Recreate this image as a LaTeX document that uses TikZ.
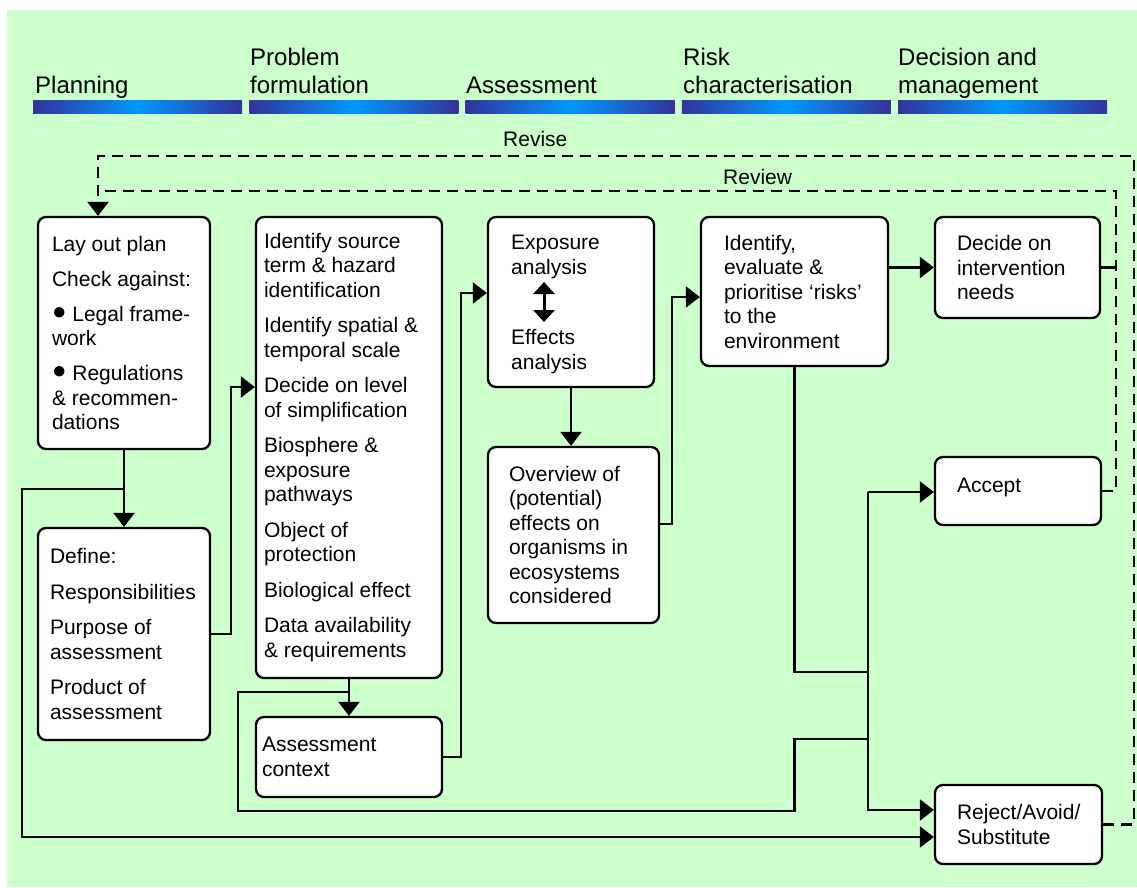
\documentclass[tikz,border=0pt]{standalone}
\usepackage{fontspec}
\setmainfont{Liberation Sans}
\usetikzlibrary{arrows.meta,calc}
\definecolor{bggreen}{HTML}{CCFFCC}
\definecolor{bardark}{HTML}{333399}
\definecolor{barlight}{HTML}{0099FF}
\newcommand{\bigdot}{\raisebox{2pt}{\fontsize{24}{24.5}\selectfont●}}
\begin{document}
\begin{tikzpicture}[x=1pt,y=-1pt,
  box/.style={draw, line width=2.3pt, rounded corners=8pt, fill=white, inner sep=0pt},
  txt/.style={font=\fontsize{21}{24.5}\selectfont, align=left, inner sep=0pt, anchor=west},
  phase/.style={font=\fontsize{24}{28}\selectfont, inner sep=0pt, anchor=base west},
  loopl/.style={font=\fontsize{21}{24.5}\selectfont, inner sep=0pt, anchor=base west},
  conn/.style={line width=2.2pt},
  arr/.style={conn, -{Triangle[length=14pt,width=21pt]}},
  dline/.style={conn, dash pattern=on 11pt off 7pt},
  dbl/.style={line width=3pt, {Triangle[length=12pt,width=21pt]}-{Triangle[length=12pt,width=21pt]}},
  bar/.style={left color=bardark, right color=bardark, middle color=barlight, draw=none}
  ]
\useasboundingbox (0,0) rectangle (1137,887);
\fill[white] (0,0) rectangle (1137,887);
\fill[bggreen] (7,10) rectangle (1137,887);

% phase bars
\foreach \i in {0,...,4}{
  \shade[bar] ({33+216.25*\i},100) rectangle ({242+216.25*\i},113);
}
% phase labels
\node[phase] (ph1) at (35,93) {Planning};
\node[phase] (ph2) at (250,93) {\begin{tabular}[b]{@{}l@{}}Problem\\formulation\end{tabular}};
\node[phase] (ph3) at (466,93) {Assessment};
\node[phase] (ph4) at (683,93) {\begin{tabular}[b]{@{}l@{}}Risk\\characterisation\end{tabular}};
\node[phase] (ph5) at (898,93) {\begin{tabular}[b]{@{}l@{}}Decision and\\management\end{tabular}};

% loop labels
\node[loopl] (revise) at (503,146) {Revise};
\node[loopl] (review) at (723,184) {Review};

% boxes
\node[box, minimum width=172pt, minimum height=232pt] (plan) at (124,333) {};
\node[box, minimum width=172pt, minimum height=212pt] (define) at (124,634) {};
\node[box, minimum width=186pt, minimum height=461pt] (ident) at (349,447.5) {};
\node[box, minimum width=186pt, minimum height=80pt] (ctx) at (349,757) {};
\node[box, minimum width=166pt, minimum height=170pt] (expo) at (571,302) {};
\node[box, minimum width=171pt, minimum height=176pt] (over) at (573.5,535) {};
\node[box, minimum width=187pt, minimum height=149pt] (risks) at (794.5,291.5) {};
\node[box, minimum width=165pt, minimum height=101pt] (decide) at (1017.5,267.5) {};
\node[box, minimum width=166pt, minimum height=68pt] (accept) at (1018,491) {};
\node[box, minimum width=167pt, minimum height=79pt] (reject) at (1018.5,824.5) {};

% box texts
\node[txt] (plan-t) at ([xshift=15pt]plan.west) {Lay out plan\\[10.5pt]Check against:\\[10.5pt]\bigdot{} Legal frame-\\work\\[10.5pt]\bigdot{} Regulations\\\& recommen-\\dations};
\node[txt] (define-t) at ([xshift=13pt]define.west) {Define:\\[11pt]Responsibilities\\[11pt]Purpose of\\assessment\\[11pt]Product of\\assessment};
\node[txt] (ident-t) at ([xshift=9pt]ident.west) {Identify source\\term \& hazard\\identification\\[11pt]Identify spatial \&\\temporal scale\\[11pt]Decide on level\\of simplification\\[11pt]Biosphere \&\\exposure\\pathways\\[11pt]Object of\\protection\\[11pt]Biological effect\\[11pt]Data availability\\\& requirements};
\node[txt] (ctx-t) at ([xshift=7pt]ctx.west) {Assessment\\context};
\node[txt] (expoA) at (511,257) {Exposure\\analysis};
\node[txt] (effA) at (511,351.5) {Effects\\analysis};
\node[txt] (over-t) at ([xshift=22pt]over.west) {Overview of\\(potential)\\effects on\\organisms in\\ecosystems\\considered};
\node[txt] (risks-t) at ([xshift=24pt]risks.west) {Identify,\\evaluate \&\\prioritise ‘risks’\\to the\\environment};
\node[txt] (decide-t) at ([xshift=23pt]decide.west) {Decide on\\intervention\\needs};
\node[txt] (accept-t) at ([xshift=23pt,yshift=4pt]accept.west) {Accept};
\node[txt] (reject-t) at ([xshift=23pt]reject.west) {Reject/Avoid/\\Substitute};

% double arrow in exposure box
\coordinate (da1) at (544,282);
\coordinate (da2) at (544,322);
\draw[dbl] (da1) -- (da2);

% coordinates for connector corners
\coordinate (j1) at (124,489);
\coordinate (cL) at (22,837);
\coordinate (c1) at (231,387);
\coordinate (j2) at (349,692);
\coordinate (cK) at (238,811);
\coordinate (c2) at (461,293);
\coordinate (c3) at (672,297);
\coordinate (k1) at (868,492);
\coordinate (kA) at (868,672);
\coordinate (kB) at (868,739);
\coordinate (r1) at (1134,156);
\coordinate (r2) at (98,156);
\coordinate (r3) at (98,203);
\coordinate (v1) at (1116,191);
\coordinate (v2) at (98,191);

% solid connectors
\draw[arr] (plan.south) -- (define.north);
\draw[arr] (j1) -| (cL) -- ([yshift=-12.5pt]reject.west);
\draw[arr] (define.east) -| (c1) -- (c1 -| ident.west);
\draw[arr] (ident.south) -- (ctx.north);
\draw[conn] (j2) -| (cK) -- (cK -| risks.south) -- (kB -| risks.south) -- (kB);
\draw[arr] (ctx.east) -| (c2) -- (c2 -| expo.west);
\draw[arr] (expo.south) -- (expo.south |- over.north);
\draw[arr] ([yshift=11pt]over.east) -| (c3) -- (c3 -| risks.west);
\draw[arr] (risks.east |- decide.west) -- (decide.west);
\draw[conn] (risks.south) |- (kA);
\draw[arr] (k1) -- (k1 -| accept.west);
\draw[arr] (k1) |- ([yshift=14.5pt]reject.west);
\draw[conn] (decide.east) -- (decide.east -| v1);

% dashed feedback loops
\draw[dline] (reject.east) -| (r1) -- (r2) -- (r3);
\draw[dline] (accept.east) -| (v1) -- (v2);
\draw[arr] (r3) -- (plan.north -| r3);
\end{tikzpicture}
\end{document}
